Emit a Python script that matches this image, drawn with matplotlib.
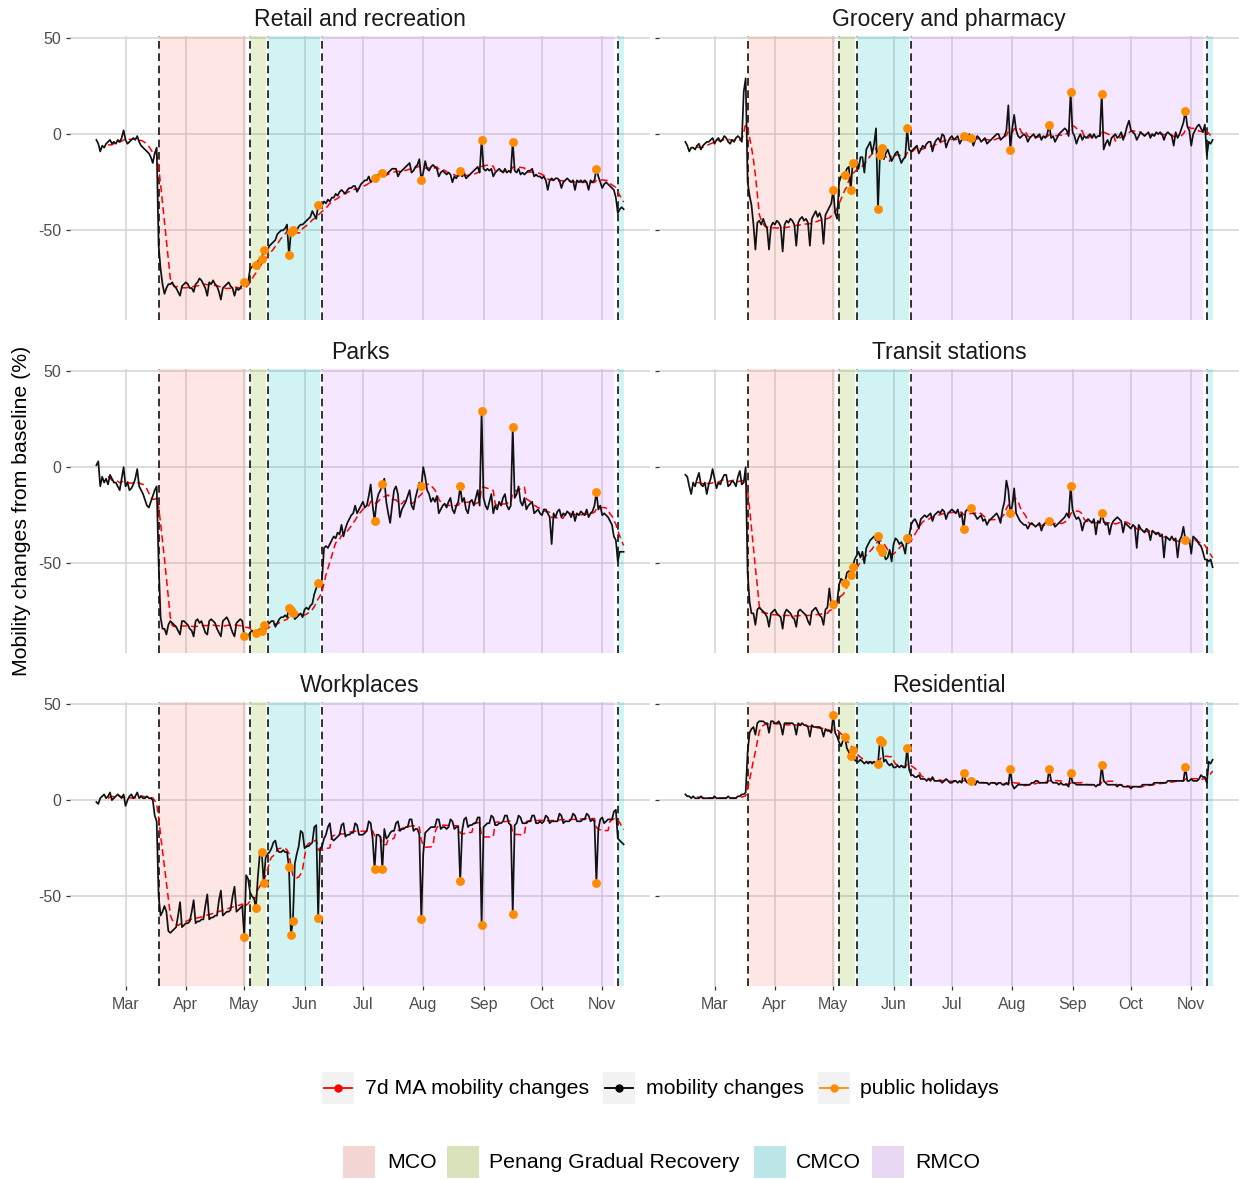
import numpy as np
import pandas as pd
import matplotlib
matplotlib.use("Agg")
import matplotlib.pyplot as plt
from matplotlib.patches import Rectangle
from matplotlib.lines import Line2D

plt.rcParams['font.family'] = ['Liberation Sans', 'DejaVu Sans']

# ---------------- data ----------------
dates = pd.date_range("2020-02-15", "2020-11-12", freq="D")

# weekly rows start on Saturday
retail = [
    -3, -5, -9, -6, -7, -5, -4,
    -3, -5, -4, -5, -3, -4, -2,
    2, -3, -5, -4, -3, -2, -3,
    -1, -4, -6, -7, -8, -9, -10,
    -12, -15, -10, -7, -58, -70, -78,
    -83, -80, -78, -78, -77, -79, -80,
    -82, -84, -79, -78, -77, -78, -80,
    -80, -82, -78, -77, -75, -76, -78,
    -80, -84, -77, -78, -76, -78, -79,
    -82, -86, -80, -79, -78, -77, -79,
    -80, -84, -80, -81, -80, -78, -77,
    -76, -77, -70, -69, -68, -68, -66,
    -65, -65, -60, -62, -60, -58, -57,
    -56, -55, -52, -51, -50, -50, -49,
    -47, -63, -51, -50, -50, -50, -48,
    -47, -47, -46, -45, -44, -43, -40,
    -42, -44, -37, -38, -37, -35, -36,
    -34, -35, -33, -33, -31, -32, -30,
    -29, -30, -31, -29, -28, -28, -27,
    -27, -30, -28, -26, -25, -24, -24,
    -22, -25, -24, -23, -22, -21, -20,
    -20, -22, -21, -20, -19, -18, -18,
    -18, -22, -20, -19, -18, -17, -16,
    -15, -20, -19, -17, -16, -13, -24,
    -20, -14, -18, -19, -17, -16, -17,
    -18, -22, -20, -19, -20, -21, -20,
    -21, -25, -22, -23, -21, -19, -22,
    -20, -23, -22, -21, -20, -19, -18,
    -17, -20, -3, -18, -19, -18, -19,
    -18, -22, -20, -19, -18, -19, -20,
    -18, -20, -19, -20, -4, -19, -20,
    -18, -21, -20, -21, -20, -19, -19,
    -18, -22, -21, -22, -22, -23, -22,
    -24, -29, -24, -23, -24, -23, -23,
    -24, -28, -25, -24, -23, -24, -25,
    -24, -29, -24, -25, -24, -25, -24,
    -25, -29, -24, -25, -24, -18, -22,
    -25, -28, -26, -25, -26, -27, -28,
    -29, -33, -41, -39, -38, -39,
]

grocery = [
    -4, -6, -9, -7, -7, -8, -6,
    -5, -8, -6, -5, -4, -4, -3,
    -2, -5, -3, -2, -4, -3, -1,
    -2, -4, -5, -3, -4, -2, -1,
    -2, -4, 22, 29, -25, -32, -37,
    -47, -60, -46, -45, -47, -44, -47,
    -49, -60, -48, -46, -47, -45, -46,
    -48, -61, -47, -45, -46, -44, -45,
    -47, -58, -46, -44, -43, -45, -44,
    -46, -58, -44, -42, -40, -43, -41,
    -44, -57, -42, -40, -38, -36, -29,
    -41, -44, -25, -22, -21, -21, -18,
    -17, -29, -15, -16, -14, -18, -12,
    -12, -20, -8, -6, -4, -10, -5,
    3, -39, -11, -7, -13, -10, -8,
    -11, -14, -12, -10, -9, -12, -15,
    -13, -12, 3, -8, -9, -8, -7,
    -6, -10, -8, -6, -7, -5, -4,
    -4, -9, -5, -3, -2, -4, 0,
    -1, -7, -4, -2, -1, -3, -2,
    -1, -5, -3, -1, -2, -3, 0,
    -2, -6, -3, -1, -2, -4, -3,
    -2, -5, -4, -3, -2, -1, 0,
    0, -3, -2, -1, 2, 15, -8,
    3, 10, 2, -1, -2, -1, 0,
    -1, -4, -2, -1, 0, -2, -1,
    0, -3, -1, -2, 0, 5, -2,
    -1, -4, -2, 0, 1, 2, 3,
    2, -1, 22, 1, -1, -5, -2,
    0, -3, -1, -2, -1, 0, -2,
    0, -2, -1, -1, 21, -8, -5,
    -3, -6, -2, -1, 0, -2, -1,
    1, -3, 0, 4, 7, 2, 1,
    0, -3, -1, 1, 0, -1, 0,
    1, -2, 0, -1, 1, 0, 1,
    0, -3, 0, 1, 0, -1, -6,
    1, -2, 0, 3, 6, 12, 4,
    2, -6, 0, 2, 4, 5, 3,
    1, 5, -11, -4, -5, -3,
]

parks = [
    1, 3, -10, -5, -8, -6, -9,
    -4, -6, -8, -8, -10, -12, -6,
    0, -10, -8, -12, -11, -9, -6,
    -1, -10, -12, -14, -17, -20, -21,
    -18, -15, -12, -10, -50, -78, -84,
    -84, -87, -82, -80, -81, -82, -83,
    -85, -87, -80, -80, -81, -82, -84,
    -85, -88, -80, -79, -81, -80, -83,
    -86, -87, -80, -79, -80, -81, -84,
    -86, -88, -80, -79, -78, -80, -83,
    -86, -88, -81, -80, -79, -80, -88,
    -87, -88, -86, -85, -86, -86, -85,
    -84, -85, -82, -83, -82, -81, -80,
    -80, -83, -81, -79, -78, -78, -77,
    -78, -73, -74, -76, -79, -78, -77,
    -76, -78, -74, -73, -74, -72, -71,
    -66, -63, -60, -62, -58, -42, -41,
    -42, -40, -38, -36, -37, -34, -35,
    -30, -36, -32, -29, -27, -25, -24,
    -20, -24, -22, -20, -18, -21, -20,
    -15, -9, -20, -28, -18, -14, -12,
    -9, -6, -18, -24, -29, -20, -12,
    -10, -14, -26, -22, -20, -18, -15,
    -12, -20, -22, -16, -12, -8, -10,
    0, -5, -12, -14, -18, -16, -18,
    -15, -24, -22, -20, -19, -21, -18,
    -16, -22, -24, -20, -18, -10, -18,
    -16, -22, -24, -18, -17, -20, -16,
    -12, -20, 29, -16, -20, -22, -18,
    -14, -24, -20, -22, -18, -20, -16,
    -14, -20, -22, -20, 21, -16, -14,
    -10, -18, -20, -16, -22, -20, -19,
    -18, -24, -23, -22, -24, -25, -22,
    -22, -24, -26, -40, -24, -26, -23,
    -22, -26, -24, -25, -23, -24, -26,
    -23, -28, -24, -25, -23, -24, -25,
    -22, -26, -24, -23, -20, -13, -22,
    -20, -25, -24, -25, -26, -28, -30,
    -36, -38, -49, -44, -44, -44,
]

transit = [
    -4, -5, -10, -14, -8, -10, -6,
    -3, -9, -10, -8, -14, -9, -6,
    -1, -6, -11, -8, -9, -6, -4,
    -4, -10, -9, -7, -8, -10, -5,
    -2, -9, -8, 0, -55, -70, -76,
    -76, -82, -74, -73, -74, -75, -76,
    -78, -83, -76, -75, -74, -76, -77,
    -78, -84, -76, -74, -75, -76, -78,
    -79, -83, -75, -74, -75, -76, -77,
    -80, -82, -75, -74, -73, -75, -77,
    -78, -82, -74, -73, -63, -72, -71,
    -73, -70, -61, -58, -59, -60, -55,
    -54, -56, -52, -48, -46, -44, -47,
    -44, -50, -42, -40, -38, -37, -36,
    -38, -36, -42, -44, -45, -48, -47,
    -43, -49, -40, -37, -38, -40, -39,
    -41, -45, -37, -36, -30, -28, -27,
    -29, -32, -27, -26, -25, -26, -25,
    -24, -28, -25, -24, -23, -24, -22,
    -23, -27, -24, -23, -22, -23, -24,
    -22, -26, -24, -32, -23, -22, -21,
    -21, -24, -25, -27, -26, -25, -28,
    -27, -30, -28, -27, -26, -25, -24,
    -26, -29, -22, -18, -7, -12, -24,
    -20, -11, -24, -26, -28, -29, -30,
    -30, -32, -30, -29, -30, -31, -30,
    -29, -33, -30, -29, -28, -28, -30,
    -29, -31, -30, -29, -28, -27, -26,
    -24, -26, -10, -22, -25, -27, -26,
    -28, -33, -29, -28, -27, -28, -29,
    -27, -35, -28, -29, -24, -28, -30,
    -29, -35, -30, -28, -27, -26, -27,
    -28, -34, -29, -30, -31, -32, -30,
    -31, -42, -30, -32, -33, -34, -32,
    -33, -38, -33, -34, -35, -34, -36,
    -35, -47, -36, -37, -38, -36, -38,
    -37, -47, -38, -36, -31, -38, -39,
    -38, -45, -36, -37, -38, -40, -41,
    -44, -48, -48, -49, -48, -52,
]

workplaces = [
    -1, -2, 1, 2, 3, 1, 2,
    4, 0, 1, 2, 3, 2, 1,
    3, -3, 0, 2, 3, 1, 2,
    4, 1, 2, 1, 1, 2, 1,
    1, 0, -8, -11, -50, -60, -58,
    -55, -58, -68, -69, -68, -67, -66,
    -60, -53, -66, -65, -64, -64, -63,
    -58, -52, -64, -63, -63, -62, -62,
    -55, -49, -62, -61, -61, -60, -60,
    -52, -47, -60, -59, -58, -58, -57,
    -50, -45, -58, -57, -56, -55, -71,
    -39, -41, -48, -50, -51, -56, -40,
    -28, -27, -43, -30, -28, -27, -25,
    -22, -21, -26, -27, -27, -26, -27,
    -27, -35, -70, -63, -33, -28, -24,
    -16, -17, -25, -24, -24, -23, -22,
    -14, -13, -61, -25, -24, -20, -18,
    -14, -12, -20, -21, -20, -19, -18,
    -13, -12, -19, -18, -18, -17, -17,
    -12, -13, -18, -18, -18, -17, -16,
    -11, -12, -20, -36, -18, -18, -19,
    -36, -15, -20, -19, -17, -16, -16,
    -12, -11, -16, -15, -15, -14, -14,
    -10, -10, -16, -15, -15, -18, -62,
    -28, -17, -16, -15, -14, -14, -14,
    -10, -10, -15, -14, -14, -15, -14,
    -10, -11, -15, -14, -14, -42, -16,
    -10, -9, -14, -13, -13, -12, -12,
    -9, -9, -65, -14, -13, -12, -12,
    -8, -9, -13, -13, -12, -12, -11,
    -8, -8, -12, -13, -59, -13, -12,
    -8, -9, -12, -12, -12, -11, -11,
    -8, -8, -12, -12, -11, -12, -11,
    -8, -9, -12, -11, -11, -11, -11,
    -7, -8, -12, -11, -11, -11, -10,
    -7, -8, -11, -11, -11, -10, -10,
    -7, -8, -11, -10, -11, -43, -15,
    -10, -9, -12, -11, -10, -10, -10,
    -6, -5, -20, -21, -22, -23,
]

residential = [
    3, 2, 2, 1, 2, 1, 1,
    1, 2, 1, 1, 1, 1, 1,
    1, 2, 1, 1, 1, 1, 1,
    1, 2, 1, 1, 1, 1, 2,
    2, 3, 3, 4, 25, 35, 37,
    38, 34, 40, 41, 41, 41, 40,
    40, 35, 41, 41, 40, 40, 41,
    39, 34, 40, 40, 40, 40, 40,
    39, 34, 40, 39, 40, 39, 39,
    38, 33, 39, 38, 38, 38, 38,
    37, 33, 37, 36, 36, 35, 44,
    35, 33, 30, 28, 31, 33, 27,
    25, 23, 26, 21, 20, 20, 21,
    20, 19, 20, 19, 20, 19, 20,
    19, 19, 31, 30, 20, 21, 19,
    18, 19, 17, 17, 18, 17, 18,
    17, 17, 27, 16, 13, 13, 12,
    12, 13, 11, 11, 11, 10, 11,
    10, 12, 10, 10, 10, 10, 9,
    10, 11, 10, 9, 9, 10, 10,
    9, 10, 9, 14, 10, 9, 9,
    10, 9, 8, 10, 9, 9, 9,
    9, 9, 8, 9, 9, 9, 8,
    9, 9, 8, 8, 9, 8, 16,
    8, 6, 7, 8, 8, 8, 8,
    8, 8, 8, 9, 9, 10, 10,
    9, 9, 9, 9, 9, 16, 10,
    9, 9, 9, 8, 9, 8, 8,
    8, 7, 14, 9, 9, 8, 8,
    8, 8, 8, 8, 8, 8, 8,
    8, 7, 8, 8, 18, 10, 9,
    8, 8, 8, 8, 8, 7, 8,
    8, 7, 7, 7, 7, 6, 7,
    7, 7, 7, 7, 8, 8, 8,
    8, 8, 8, 9, 9, 9, 9,
    9, 9, 9, 10, 10, 10, 10,
    10, 10, 10, 10, 10, 17, 10,
    10, 11, 10, 10, 10, 11, 13,
    12, 12, 9, 20, 19, 21,
]

panel_titles = ["Retail and recreation", "Grocery and pharmacy", "Parks",
                "Transit stations", "Workplaces", "Residential"]
panel_values = [retail, grocery, parks, transit, workplaces, residential]

holidays = ["2020-05-01", "2020-05-07", "2020-05-10", "2020-05-11",
            "2020-05-24", "2020-05-25", "2020-05-26", "2020-06-08",
            "2020-07-07", "2020-07-11", "2020-07-31", "2020-08-20",
            "2020-08-31", "2020-09-16", "2020-10-29"]

phase_names = ["MCO", "Penang Gradual Recovery", "CMCO", "RMCO", "CMCO"]
phase_start = ["2020-03-18", "2020-05-04", "2020-05-13", "2020-06-10", "2020-11-09"]
phase_end = ["2020-05-02", "2020-05-12", "2020-06-09", "2020-11-07", "2020-11-12"]
phase_lines = ["2020-03-18", "2020-05-04", "2020-05-13", "2020-06-10", "2020-11-09"]
legend_phases = ["MCO", "Penang Gradual Recovery", "CMCO", "RMCO"]
phase_colors = {"MCO": "#F8766D", "Penang Gradual Recovery": "#7CAE00",
                "CMCO": "#00BFC4", "RMCO": "#C77CFF"}

month_ticks = pd.date_range("2020-03-01", "2020-11-01", freq="MS")
month_labels = [d.strftime("%b") for d in month_ticks]

for v in panel_values:
    assert len(v) == len(dates), len(v)

# ---------------- figure ----------------
W, H = 1239, 1180
fig = plt.figure(figsize=(W / 100, H / 100), dpi=100)


def px_axes(x0, y0, x1, y1):
    return fig.add_axes([x0 / W, 1 - y1 / H, (x1 - x0) / W, (y1 - y0) / H])


cols = [(70, 650), (659, 1239)]
rows = [(36, 320), (369, 653), (702, 986)]

hol_dates = pd.to_datetime(holidays)
xpad = pd.Timedelta(days=13.55)
ALPHA = 0.18

for i, (title, vals) in enumerate(zip(panel_titles, panel_values)):
    r, c = divmod(i, 2)
    x0, x1 = cols[c]
    y0, y1 = rows[r]
    ax = px_axes(x0, y0, x1, y1)
    s = pd.Series(vals, index=dates, dtype=float)
    ma = s.rolling(7).mean()

    ax.set_axisbelow(True)
    ax.grid(True, color="#D3D3D3", lw=1.1)
    for name, a, b in zip(phase_names, phase_start, phase_end):
        ax.axvspan(pd.Timestamp(a), pd.Timestamp(b), color=phase_colors[name],
                   alpha=ALPHA, lw=0, zorder=1)
    for d in phase_lines:
        ax.axvline(pd.Timestamp(d), color="#111111", lw=1.2, dashes=(4.6, 2.8), zorder=2)

    ax.plot(dates, ma.values, color="#FF0000", lw=1.1, dashes=(4.6, 2.6), zorder=3)
    ax.plot(dates, s.values, color="#111111", lw=1.25, zorder=4)
    hv = s.loc[hol_dates]
    ax.plot(hv.index, hv.values, ls="none", marker="o", ms=6.4,
            color="#FF8C00", mec="none", zorder=5)

    ax.set_xlim(dates[0] - xpad, dates[-1] + xpad)
    ax.set_ylim(-96.6, 51.0)
    ax.set_yticks([-50, 0, 50])
    ax.set_xticks(month_ticks)
    for sp in ax.spines.values():
        sp.set_visible(False)
    ax.tick_params(axis="both", colors="#333333", labelcolor="#4D4D4D",
                   labelsize=11.5, length=3.2, width=0.9, pad=3)
    if c == 0:
        ax.set_yticklabels(["-50", "0", "50"])
    else:
        ax.set_yticklabels([])
    if r == 2:
        ax.set_xticklabels(month_labels)
        ax.tick_params(axis="x", pad=4.5)
    else:
        ax.set_xticklabels([])
        ax.tick_params(axis="x", length=0)

    fig.text((x0 + x1) / 2 / W, 1 - (y0 - 10) / H, title, ha="center",
             va="baseline", fontsize=16.6, color="#1A1A1A")

fig.text(22 / W, 1 - 511 / H, "Mobility changes from baseline (%)", rotation=90,
         ha="center", va="center", fontsize=15.3, color="black")

# ---------------- legends ----------------
lax = fig.add_axes([0, 0, 1, 1])
lax.set_xlim(0, W)
lax.set_ylim(H, 0)
lax.axis("off")

KEY = 32
leg1_items = [("7d MA mobility changes", "#FF0000", 322, 365),
              ("mobility changes", "black", 603, 646),
              ("public holidays", "#FF8C00", 818, 860)]
ly1 = 1088
for label, colr, kx, tx in leg1_items:
    lax.add_patch(Rectangle((kx, ly1 - KEY / 2), KEY, KEY, facecolor="#F2F2F2",
                            edgecolor="none"))
    lax.add_line(Line2D([kx + 2, kx + KEY - 2], [ly1, ly1], color=colr, lw=1.3))
    lax.plot([kx + KEY / 2], [ly1], marker="o", ms=6, color=colr, mec="none")
    lax.text(tx, ly1 + 1, label, ha="left", va="center", fontsize=15.3, color="black")

leg2_pos = {"MCO": (343, 387), "Penang Gradual Recovery": (447, 489),
            "CMCO": (754, 796), "RMCO": (872, 915)}
ly2 = 1162
for name in legend_phases:
    kx, tx = leg2_pos[name]
    lax.add_patch(Rectangle((kx, ly2 - KEY / 2), KEY, KEY, facecolor="#F2F2F2",
                            edgecolor="none"))
    lax.add_patch(Rectangle((kx, ly2 - KEY / 2), KEY, KEY, facecolor=phase_colors[name],
                            alpha=ALPHA + 0.04, edgecolor="none"))
    lax.text(tx, ly2 + 1, name, ha="left", va="center", fontsize=15.3, color="black")

fig.savefig("out.png", dpi=100, facecolor="white")
